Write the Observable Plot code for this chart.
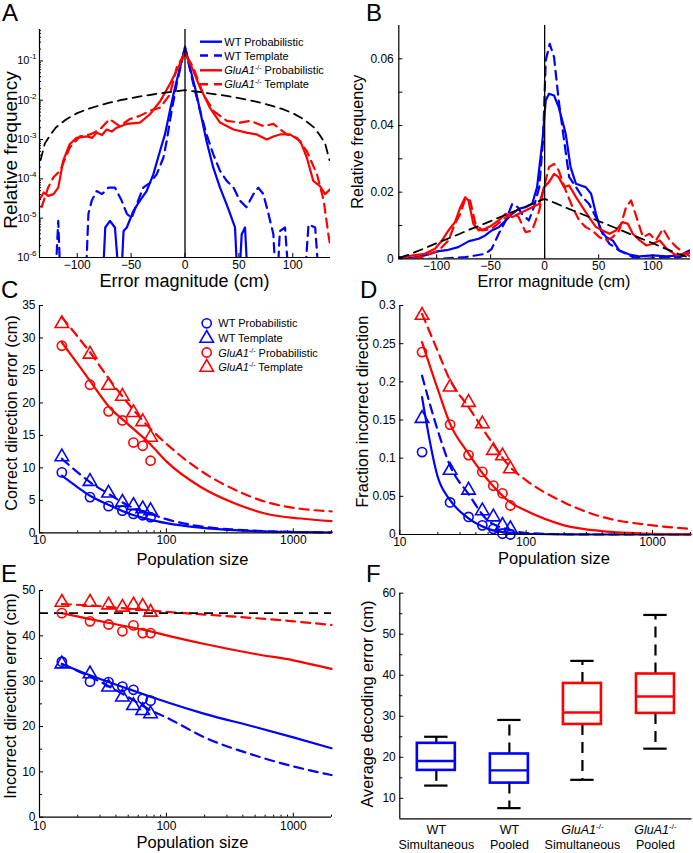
<!DOCTYPE html>
<html><head><meta charset="utf-8">
<script src="https://cdn.jsdelivr.net/npm/d3@7"></script>
<script src="https://cdn.jsdelivr.net/npm/@observablehq/plot@0.6"></script>
<style>
body{margin:0;background:#fff;}
#fig{position:relative;width:693px;height:853px;overflow:hidden;background:#fff;font-family:"Liberation Sans",Arial,Helvetica,sans-serif;}
</style></head>
<body><div id="fig"></div>
<script>
// ---------------- DATA ----------------
// Panels A/B : chance distribution (black dashed)
const chanceX = [-134,-130,-125,-120,-110,-100,-90,-80,-70,-60,-50,-40,-30,-20,-10,0,10,20,30,40,50,60,70,80,90,100,110,120,125,130,134];
const chanceY = [3.0e-4,8.0e-4,1.3e-3,2.0e-3,3.3e-3,4.7e-3,6.0e-3,7.3e-3,8.7e-3,1.0e-2,1.13e-2,1.27e-2,1.4e-2,1.53e-2,1.67e-2,1.8e-2,1.67e-2,1.53e-2,1.4e-2,1.27e-2,1.13e-2,1.0e-2,8.7e-3,7.3e-3,6.0e-3,4.7e-3,3.3e-3,2.0e-3,1.3e-3,8.0e-4,3.0e-4];

// Panel A (log relative frequency)
const A_wtProb_x = [-80,-77,-74,-69.6,-65,-60,-57,-54,-48,-41.8,-35.6,-29.4,-23.2,-18.6,-14,-9.3,-4.6,0,4.6,9.3,14,20,26.3,32.5,38.7,41.8,46.4,49.5,52.6,55.7,59,62];
const A_wtProb_y = [1e-7,1e-7,5.8e-6,8.5e-6,5.8e-6,1e-7,4.7e-6,5.8e-6,1.5e-5,2.8e-5,4.9e-5,1.3e-4,5.1e-4,1.35e-3,5.4e-3,2.1e-2,6.8e-2,0.23,6.8e-2,2.1e-2,5.4e-3,9.1e-4,1.9e-4,6.0e-5,2.2e-5,1.3e-5,5.8e-6,1e-7,3.9e-6,5.8e-6,1e-7,1e-7];
const A_wtTemp_x = [-123,-121,-117.6,-115,-92.7,-89.6,-86.5,-82,-77,-71,-65,-58.8,-54,-49.5,-45,-38.7,-32.5,-26.3,-20,-17,-12.4,-7.7,0,7.7,14,20,26.3,32.5,38.7,45,51,57,63.5,68,72.7,77.4,82,85,88,92.8,97.5,110,114.6,120.8,125.4];
const A_wtTemp_y = [1e-7,1e-7,8.5e-6,1e-7,1e-7,1.3e-5,2.8e-5,4.9e-5,4.1e-5,6.0e-5,6.0e-5,2.8e-5,1.3e-5,1.0e-5,2.2e-5,6.0e-5,7.9e-5,1.3e-4,3.5e-4,9.1e-4,5.4e-3,2.6e-2,0.22,2.6e-2,5.4e-3,1.35e-3,4.2e-4,1.6e-4,8.9e-5,6.0e-5,2.8e-5,1.9e-5,4.1e-5,6.0e-5,4.1e-5,1.3e-5,3.9e-6,1e-7,4.7e-6,5.8e-6,1e-7,1e-7,6.9e-6,5.8e-6,1e-7];
const A_gluProb_x = [-134,-131,-127,-122,-117.6,-113,-107,-100.6,-91,-86,-82,-77,-72.7,-68,-63.4,-54,-41.8,-32.5,-23,-14,-7.7,0,7.7,14,23,32.5,45,57,66.5,75.8,82,88,97.5,107,113,119,125,130,134.7];
const A_gluProb_y = [3.3e-5,4.5e-5,3.7e-5,4.1e-5,6.0e-5,2.9e-4,7.6e-4,1.1e-3,1.2e-3,1.1e-3,1.5e-3,1.3e-3,1.8e-3,1.6e-3,2.0e-3,2.5e-3,2.7e-3,4.4e-3,9.5e-3,2.6e-2,5.6e-2,0.16,5.6e-2,2.1e-2,6.5e-3,2.7e-3,1.8e-3,1.5e-3,1.35e-3,1.0e-3,1.2e-3,1.35e-3,1.35e-3,9.1e-4,3.5e-4,8.9e-5,6.6e-5,4.1e-5,5.4e-5];
const A_gluTemp_x = [-133,-127,-122,-116,-107,-97.6,-88,-79,-70,-60.6,-51.3,-42,-32.5,-23,-14,-7.7,0,7.7,17,26.3,38.7,51,60.4,72.7,82,94.5,104,113,122.5,128.7,133,135];
const A_gluTemp_y = [1.9e-5,6.0e-5,1.1e-4,1.6e-4,6.2e-4,1.2e-3,1.35e-3,1.8e-3,3.3e-3,2.2e-3,3.3e-3,4.0e-3,5.4e-3,6.5e-3,1.4e-2,6.8e-2,0.16,6.8e-2,1.4e-2,5.4e-3,3.0e-3,2.7e-3,3.0e-3,2.2e-3,2.5e-3,1.35e-3,1.1e-3,5.1e-4,1.3e-4,2.8e-5,3.9e-6,1.8e-6];
const A_xTicks = [-100,-50,0,50,100];
const A_yTicks = [1e-6,1e-5,1e-4,1e-3,1e-2,1e-1];

// Panel B (linear relative frequency)
const B_wtProb_x = [-135,-123,-111,-98,-89,-80,-70,-61,-55,-49,-42.5,-36,-30,-24,-17.7,-11.5,-7,-2,1,4,8.7,13,19.5,24,29,33.5,38,43,47.5,52,57,63,69,78.5,88,100,113,125,134];
const B_wtProb_y = [0.0005,0.0003,0.001,0.0023,0.0027,0.0035,0.0053,0.006,0.007,0.0085,0.0095,0.0115,0.0135,0.015,0.0155,0.0165,0.0215,0.0355,0.0475,0.0495,0.049,0.0455,0.0375,0.0275,0.0225,0.022,0.0215,0.0195,0.0135,0.0085,0.0065,0.0055,0.0025,0.0013,0.0007,0.001,0.0007,0.001,0.0025];
const B_wtTemp_x = [-135,-98,-73.5,-64,-55,-49,-42.5,-36,-30,-25,-21,-14.6,-10,-5,-1.5,1,4.7,8.7,13,18,22.7,29,35,41,47.5,53.7,60,69,81.6,94,113,125,136];
const B_wtTemp_y = [0,0,0.0005,0.001,0.0015,0.003,0.0075,0.0115,0.0165,0.0155,0.0135,0.0115,0.0155,0.0215,0.0355,0.0595,0.0645,0.0605,0.0475,0.0355,0.0245,0.0215,0.0185,0.0165,0.0125,0.0075,0.0045,0.0025,0.0005,0,0.0005,0.0005,0.002];
const B_gluProb_x = [-135,-123,-111,-101.5,-95,-89,-83,-78,-73.5,-70.5,-66,-61,-55,-49,-42.5,-36,-30,-24,-17.7,-11.5,-5,-0.6,4,8.7,13,18,22.7,29,35,41,47.5,53.7,60,66,72,77,81.6,88,94,100,106.5,113,122,136];
const B_gluProb_y = [0,0.001,0.0015,0.003,0.0055,0.0085,0.011,0.0155,0.0185,0.0175,0.0105,0.0085,0.009,0.010,0.0115,0.0135,0.0125,0.0135,0.0145,0.0155,0.0165,0.0215,0.023,0.0255,0.0245,0.0215,0.022,0.0185,0.0155,0.0125,0.0095,0.0085,0.0075,0.0085,0.011,0.0105,0.0075,0.0055,0.004,0.0045,0.0055,0.003,0.001,0.002];
const B_gluTemp_x = [-135,-114,-98,-89,-83,-78,-73.5,-69,-64,-58,-49,-39.4,-30,-24,-17.7,-11.5,-5,-0.6,4,8.7,13,19.5,25.8,32,38,44,50.6,57,63,69,75.4,80,85,91,97,103,109.6,116,122,128,136];
const B_gluTemp_y = [0,0.0005,0.0025,0.0055,0.0105,0.0135,0.018,0.0175,0.0105,0.0085,0.009,0.0115,0.014,0.0125,0.008,0.0085,0.0145,0.0215,0.0275,0.0285,0.0265,0.0205,0.0155,0.0115,0.0095,0.0085,0.0065,0.0055,0.0065,0.0085,0.0155,0.0175,0.0125,0.0065,0.0075,0.0055,0.009,0.0055,0.0035,0.002,0.0005];
const B_xTicks = [-100,-50,0,50,100];
const B_yTicks = [0,0.02,0.04,0.06];
const B_yMinor = [0.01,0.03,0.05];

// Panels C-E : population sizes
const popSizes = [15,25,35,45,55,65,75];
const logTicks = [10,100,1000];

const C_wtProb = [9.3,5.5,4.1,3.4,2.9,2.7,2.4];
const C_wtTemp = [11.7,7.9,6.1,4.7,4.2,3.7,3.4];
const C_gluProb = [28.8,22.8,18.7,17.3,13.9,13.4,11.1];
const C_gluTemp = [32.2,27.5,22.7,21.0,18.5,17.1,14.7];
const C_fitX = [15,20,25,35,50,75,100,185,340,620,1140,2000];
const C_fit_wtProb = [8.8,7.0,5.7,4.3,3.0,2.0,1.5,0.8,0.4,0.2,0.1,0.05];
const C_fit_wtTemp = [11.4,9.3,7.8,6.0,4.2,2.9,2.1,1.0,0.5,0.25,0.12,0.06];
const C_fit_gluProb = [29.3,26.0,23.4,19.5,16.7,13.6,11.0,7.1,4.6,2.9,2.2,1.8];
const C_fit_gluTemp = [33.2,30.2,27.8,23.8,19.9,16.0,13.7,9.6,6.7,4.7,3.7,3.3];
const C_yTicks = [0,5,10,15,20,25,30,35];

const D_wtProb = [0.108,0.042,0.023,0.012,0.0074,0.001,0];
const D_wtTemp = [0.152,0.084,0.058,0.031,0.023,0.012,0.0075];
const D_gluProb = [0.239,0.144,0.104,0.082,0.064,0.054,0.038];
const D_gluTemp = [0.287,0.193,0.173,0.145,0.110,0.103,0.086];
const D_fitX = [15,20,25,35,50,75,100,200,400,1000,2000];
const D_fit_wtProb = [0.180,0.075,0.045,0.021,0.0074,0.002,0.001,0.0002,0,0,0];
const D_fit_wtTemp = [0.208,0.136,0.090,0.053,0.018,0.006,0.002,0.0003,0,0,0];
const D_fit_gluProb = [0.252,0.190,0.145,0.106,0.071,0.042,0.031,0.012,0.0044,0.0009,0.0002];
const D_fit_gluTemp = [0.289,0.240,0.202,0.167,0.128,0.088,0.071,0.042,0.023,0.012,0.0074];
const D_yTicks = [0,0.05,0.1,0.15,0.2,0.25,0.3];

const E_wtProb = [34.3,29.9,29.8,28.8,28.1,26.1,25.7];
const E_wtTemp = [33.8,31.6,28.7,26.5,24.6,23.5,22.8];
const E_gluProb = [45.0,43.2,42.5,41.0,42.3,40.6,40.6];
const E_gluTemp = [47.4,47.4,46.8,46.3,46.8,46.5,45.2];
const E_fitX = [15,25,50,75,100,200,500,1000,2000];
const E_fit_wtProb = [33.8,31.3,28.3,26.6,25.4,22.8,19.9,17.6,15.2];
const E_fit_wtTemp = [33.8,31.0,26.5,23.6,22.0,17.6,13.6,11.2,9.3];
const E_fit_gluProb = [45.0,43.7,42.0,41.0,40.1,38.2,36.0,34.6,32.7];
const E_fit_gluTemp = [47.0,46.7,46.0,45.6,45.3,44.7,43.9,43.2,42.4];
const E_chance = [45];
const E_yTicks = [0,10,20,30,40,50];
const E_yMinor = [5,15,25,35,45];

// Panel F : box plots
const F_line1 = ["WT","WT","GluA1-/-","GluA1-/-"];
const F_line2 = ["Simultaneous","Pooled","Simultaneous","Pooled"];
const F_pos = [1,2,3,4];
const F_color = ["#0000ff","#0000ff","#ff0000","#ff0000"];
const F_lower = [13.1,7.6,14.5,22.1];
const F_q1 = [16.8,13.7,28.0,30.7];
const F_median = [19.1,16.8,30.9,34.8];
const F_q3 = [23.4,20.8,38.0,40.3];
const F_upper = [25.0,29.1,43.5,54.7];
const F_yTicks = [10,20,30,40,50,60];
const F_yMinor = [15,25,35,45,55];

// Axis titles
const titles = {
  Ax: "Error magnitude (cm)", Ay: "Relative frequency",
  Bx: "Error magnitude (cm)", By: "Relative frequency",
  Cx: "Population size", Cy: "Correct direction error (cm)",
  Dx: "Population size", Dy: "Fraction incorrect direction",
  Ex: "Population size", Ey: "Incorrect direction error (cm)",
  Fy: "Average decoding error (cm)"
};

// ---------------- RENDER ----------------
const FONT = '"Liberation Sans", Arial, Helvetica, sans-serif';
const BLUE = "#0000ff", RED = "#ff0000";
const LW = 2.2, DASH = "9,6";
const svgNS = "http://www.w3.org/2000/svg";
const fig = document.getElementById("fig");

function pts(xs, ys){ return xs.map((x,i)=>({x, y: ys[i]})); }
function line(xs, ys, color, dashed, extra={}){
  return Plot.line(pts(xs, ys), {x:"x", y:"y", stroke:color, strokeWidth:LW, strokeDasharray: dashed ? DASH : null, ...extra});
}
function dots(xs, ys, color, symbol){
  return Plot.dot(pts(xs, ys), {x:"x", y:"y", stroke:color, strokeWidth:1.6, fill:"none", symbol, r: symbol === "triangle" ? 5 : 4.6});
}
function ticksX(v, fh, len){ return Plot.tickX(v, {x:d=>d, insetTop: fh-len, stroke:"black", strokeWidth:1}); }
function ticksY(v, fw, len){ return Plot.tickY(v, {y:d=>d, insetRight: fw-len, stroke:"black", strokeWidth:1}); }
const minus = d => d < 0 ? "\u2212" + Math.abs(d) : String(d);

function fixText(svg){
  svg.querySelectorAll("text").forEach(t => {
    const s = t.textContent; let m;
    if ((m = /^10\^(-?\d+)$/.exec(s))) {
      t.textContent = "10";
      const sup = document.createElementNS(svgNS, "tspan");
      sup.setAttribute("dy", "-5"); sup.setAttribute("font-size", "8");
      sup.textContent = m[1];
      t.appendChild(sup);
    } else if (s === "GluA1-/-") {
      t.textContent = "";
      const a = document.createElementNS(svgNS, "tspan");
      a.setAttribute("font-style", "italic"); a.textContent = "GluA1";
      const b = document.createElementNS(svgNS, "tspan");
      b.setAttribute("dy", "-5"); b.setAttribute("font-size", "8"); b.textContent = "-/-";
      t.append(a, b);
    }
  });
}

function panel(cfg, opts, marksFn){
  const fw = cfg.w - cfg.mL - cfg.mR, fh = cfg.h - cfg.mT - cfg.mB;
  const svg = Plot.plot({
    width: cfg.w, height: cfg.h,
    marginLeft: cfg.mL, marginRight: cfg.mR, marginTop: cfg.mT, marginBottom: cfg.mB,
    style: {fontFamily: FONT, fontSize: "12px", background: "transparent", color: "black", overflow: "visible"},
    ...opts,
    marks: marksFn(fw, fh)
  });
  fixText(svg);
  svg.style.position = "absolute"; svg.style.left = cfg.x + "px"; svg.style.top = cfg.y + "px";
  fig.appendChild(svg);
}

// Panel A
panel({x:0, y:0, w:345, h:285, mL:39, mR:15, mT:29, mB:28},
  {x:{domain:[-135,135]}, y:{type:"log", domain:[1e-6, 0.63]}},
  (fw, fh) => [
    line(A_wtProb_x, A_wtProb_y, BLUE, false, {clip:true}),
    line(A_wtTemp_x, A_wtTemp_y, BLUE, true, {clip:true}),
    line(A_gluProb_x, A_gluProb_y, RED, false, {clip:true}),
    line(A_gluTemp_x, A_gluTemp_y, RED, true, {clip:true}),
    Plot.line(pts(chanceX, chanceY), {x:"x", y:"y", stroke:"black", strokeWidth:1.8, strokeDasharray:DASH, clip:true}),
    Plot.ruleX([0], {stroke:"black", strokeWidth:1.3}),
    Plot.ruleX([-135], {stroke:"black", strokeWidth:1.2}),
    Plot.ruleY([1e-6], {stroke:"black", strokeWidth:1.2}),
    ticksX(A_xTicks, fh, 4),
    ticksY(A_yTicks, fw, 4),
    ticksY(d3.scaleLog().domain([1e-6,0.63]).ticks().filter(v => !A_yTicks.includes(v)), fw, 2),
    Plot.axisX({ticks:A_xTicks, tickSize:0, tickPadding:3, tickFormat:minus, fontSize:12, label:null}),
    Plot.axisY({ticks:A_yTicks, tickSize:0, tickPadding:3, tickFormat:d=>"10^"+Math.round(Math.log10(d)), fontSize:11, label:null})
  ]);

// Panel B
panel({x:345, y:0, w:348, h:285, mL:53.3, mR:3, mT:25, mB:26.7},
  {x:{domain:[-135,135]}, y:{domain:[0,0.07]}},
  (fw, fh) => [
    line(B_wtProb_x, B_wtProb_y, BLUE, false, {clip:true}),
    line(B_wtTemp_x, B_wtTemp_y, BLUE, true, {clip:true}),
    line(B_gluProb_x, B_gluProb_y, RED, false, {clip:true}),
    line(B_gluTemp_x, B_gluTemp_y, RED, true, {clip:true}),
    Plot.line(pts(chanceX, chanceY), {x:"x", y:"y", stroke:"black", strokeWidth:1.8, strokeDasharray:DASH, clip:true}),
    Plot.ruleX([0], {stroke:"black", strokeWidth:1.3}),
    Plot.ruleX([-135], {stroke:"black", strokeWidth:1.2}),
    Plot.ruleY([0], {stroke:"black", strokeWidth:1.2}),
    ticksX(B_xTicks, fh, 4),
    ticksY(B_yTicks, fw, 4),
    ticksY(B_yMinor, fw, 4),
    Plot.axisX({ticks:B_xTicks, tickSize:0, tickPadding:3, tickFormat:minus, fontSize:12, label:null}),
    Plot.axisY({ticks:B_yTicks, tickSize:0, tickPadding:5, tickFormat:d=>d===0?"0":d.toFixed(2), fontSize:12, label:null})
  ]);

function popPanel(cfg, yDomain, yTicks, yFmt, yMinor, data, xPad){
  panel(cfg, {x:{type:"log", domain:[10,2000]}, y:{domain:yDomain}}, (fw, fh) => [
    ...data,
    Plot.ruleX([10], {stroke:"black", strokeWidth:1.2}),
    Plot.ruleY([yDomain[0]], {stroke:"black", strokeWidth:1.2}),
    ticksX(logTicks, fh, 4),
    ticksX(d3.scaleLog().domain([10,2000]).ticks().filter(v => !logTicks.includes(v)), fh, 2),
    ticksY(yTicks, fw, 4),
    ...(yMinor ? [ticksY(yMinor, fw, 3)] : []),
    Plot.axisX({ticks:logTicks, tickSize:0, tickPadding:xPad, tickFormat:d=>String(d), fontSize:12, label:null}),
    Plot.axisY({ticks:yTicks, tickSize:0, tickPadding:4, tickFormat:yFmt, fontSize:12, label:null})
  ]);
}

// Panel C
popPanel({x:0, y:285, w:345, h:285, mL:39, mR:14, mT:20, mB:37.7}, [0,35], C_yTicks, d=>String(d), null, [
  line(C_fitX, C_fit_wtProb, BLUE, false, {curve:"monotone-x"}),
  line(C_fitX, C_fit_wtTemp, BLUE, true, {curve:"monotone-x"}),
  line(C_fitX, C_fit_gluProb, RED, false, {curve:"monotone-x"}),
  line(C_fitX, C_fit_gluTemp, RED, true, {curve:"monotone-x"}),
  dots(popSizes, C_wtProb, BLUE, "circle"),
  dots(popSizes, C_wtTemp, BLUE, "triangle"),
  dots(popSizes, C_gluProb, RED, "circle"),
  dots(popSizes, C_gluTemp, RED, "triangle")
], 3);

// Panel D
popPanel({x:345, y:285, w:348, h:285, mL:54.3, mR:3, mT:20, mB:36}, [0,0.3], D_yTicks, d=>d===0?"0":String(+d.toFixed(2)), null, [
  line(D_fitX, D_fit_wtProb, BLUE, false, {curve:"monotone-x"}),
  line(D_fitX, D_fit_wtTemp, BLUE, true, {curve:"monotone-x"}),
  line(D_fitX, D_fit_gluProb, RED, false, {curve:"monotone-x"}),
  line(D_fitX, D_fit_gluTemp, RED, true, {curve:"monotone-x"}),
  dots(popSizes, D_wtProb, BLUE, "circle"),
  dots(popSizes, D_wtTemp, BLUE, "triangle"),
  dots(popSizes, D_gluProb, RED, "circle"),
  dots(popSizes, D_gluTemp, RED, "triangle")
], 3);

// Panel E
popPanel({x:0, y:570, w:345, h:283, mL:39, mR:14, mT:20, mB:36.3}, [0,50], E_yTicks, d=>String(d), E_yMinor, [
  line(E_fitX, E_fit_wtProb, BLUE, false, {curve:"monotone-x"}),
  line(E_fitX, E_fit_wtTemp, BLUE, true, {curve:"monotone-x"}),
  line(E_fitX, E_fit_gluProb, RED, false, {curve:"monotone-x"}),
  line(E_fitX, E_fit_gluTemp, RED, true, {curve:"monotone-x"}),
  Plot.ruleY(E_chance, {stroke:"black", strokeWidth:1.8, strokeDasharray:DASH}),
  dots(popSizes, E_wtProb, BLUE, "circle"),
  dots(popSizes, E_wtTemp, BLUE, "triangle"),
  dots(popSizes, E_gluProb, RED, "circle"),
  dots(popSizes, E_gluTemp, RED, "triangle")
], 4);

// Panel F
const boxes = F_pos.map((p,i)=>({p, c:F_color[i], lo:F_lower[i], q1:F_q1[i], med:F_median[i], q3:F_q3[i], hi:F_upper[i]}));
panel({x:345, y:570, w:348, h:283, mL:54.3, mR:1.5, mT:22.7, mB:34.7},
  {x:{domain:[0.5,4.5]}, y:{domain:[5,60]}},
  (fw, fh) => [
    Plot.ruleX(boxes, {x:"p", y1:"q3", y2:"hi", stroke:"black", strokeWidth:2.2, strokeDasharray:"11,7"}),
    Plot.ruleX(boxes, {x:"p", y1:"q1", y2:"lo", stroke:"black", strokeWidth:2.2, strokeDasharray:"11,7"}),
    Plot.ruleY(boxes, {y:"hi", x1:d=>d.p-0.16, x2:d=>d.p+0.16, stroke:"black", strokeWidth:2.2}),
    Plot.ruleY(boxes, {y:"lo", x1:d=>d.p-0.16, x2:d=>d.p+0.16, stroke:"black", strokeWidth:2.2}),
    ...boxes.map(b => Plot.rect([b], {x1:d=>d.p-0.26, x2:d=>d.p+0.26, y1:"q1", y2:"q3", fill:"white", stroke:b.c, strokeWidth:2.6})),
    ...boxes.map(b => Plot.ruleY([b], {y:"med", x1:d=>d.p-0.26, x2:d=>d.p+0.26, stroke:b.c, strokeWidth:2.4})),
    Plot.ruleX([0.5], {stroke:"black", strokeWidth:1.2}),
    Plot.ruleY([5], {stroke:"black", strokeWidth:1.2}),
    ticksY(F_yTicks, fw, 4),
    ticksY(F_yMinor, fw, 3),
    Plot.axisY({ticks:F_yTicks, tickSize:0, tickPadding:4, fontSize:12, label:null}),
    Plot.axisX({ticks:F_pos, tickSize:0, tickPadding:6, tickFormat:d=>F_line1[d-1], fontSize:12.5, label:null}),
    Plot.axisX({ticks:F_pos, tickSize:0, tickPadding:21, tickFormat:d=>F_line2[d-1], fontSize:12.5, label:null})
  ]);

// ---------------- Overlay: letters, axis titles, legends ----------------
const ov = d3.select(fig).append("svg").attr("width",693).attr("height",853)
  .style("position","absolute").style("left","0px").style("top","0px")
  .style("font-family",FONT).style("pointer-events","none");
const letters = [["A",2,21],["B",366,21],["C",1,298],["D",360,298],["E",1,582],["F",366,582]];
letters.forEach(([t,x,y]) => ov.append("text").attr("x",x).attr("y",y).attr("font-size",24).text(t));

// x titles: [text, centre x, baseline y, size]
[[titles.Ax,184.5,286.5,18],[titles.Bx,554,287,16.2],[titles.Cx,192.5,565,16.5],
 [titles.Dx,554,563.5,16.5],[titles.Ex,192.5,848,16.5]].forEach(([t,x,y,s]) =>
  ov.append("text").attr("x",x).attr("y",y).attr("font-size",s).attr("text-anchor","middle").text(t));
// y titles: [text, centre x, centre y, size]
[[titles.Ay,10,150,19],[titles.By,356.7,141.7,16.2],[titles.Cy,10.8,413,16.3],
 [titles.Dy,361.7,411.7,16.3],[titles.Ey,10,696,16.3],[titles.Fy,366.7,704,16.3]].forEach(([t,x,y,s]) =>
  ov.append("text").attr("transform",`translate(${x},${y}) rotate(-90)`).attr("font-size",s)
    .attr("text-anchor","middle").attr("dy","0.36em").text(t));

function legendLabel(g, x, y, glu, rest){
  const t = g.append("text").attr("x",x).attr("y",y).attr("font-size",11);
  if (glu) {
    t.append("tspan").attr("font-style","italic").text("GluA1");
    t.append("tspan").attr("dy",-4).attr("font-size",7).text("-/-");
    t.append("tspan").attr("dy",4).text(" " + rest);
  } else t.text(rest);
}
const legA = [
  {c:BLUE, dash:false, glu:false, t:"WT Probabilistic"},
  {c:BLUE, dash:true, glu:false, t:"WT Template"},
  {c:RED, dash:false, glu:true, t:"Probabilistic"},
  {c:RED, dash:true, glu:true, t:"Template"}
];
const legAy = [41.7,55.5,70.3,84.3];
legA.forEach((d,i) => {
  ov.append("line").attr("x1",200).attr("x2",222).attr("y1",legAy[i]).attr("y2",legAy[i])
    .attr("stroke",d.c).attr("stroke-width",2.4).attr("stroke-dasharray", d.dash ? "8,6" : null);
  legendLabel(ov, 224.3, legAy[i]+4, d.glu, d.t);
});
const legC = [
  {c:BLUE, s:d3.symbolCircle, glu:false, t:"WT Probabilistic"},
  {c:BLUE, s:d3.symbolTriangle, glu:false, t:"WT Template"},
  {c:RED, s:d3.symbolCircle, glu:true, t:"Probabilistic"},
  {c:RED, s:d3.symbolTriangle, glu:true, t:"Template"}
];
const legCy = [323.3,338.3,352.5,367.3];
legC.forEach((d,i) => {
  const r = d.s === d3.symbolTriangle ? 5 : 4.6;
  ov.append("path").attr("d", d3.symbol(d.s, Math.PI*r*r)()).attr("transform",`translate(206.7,${legCy[i]})`)
    .attr("fill","none").attr("stroke",d.c).attr("stroke-width",1.6);
  legendLabel(ov, 218.3, legCy[i]+4, d.glu, d.t);
});
</script></body></html>
